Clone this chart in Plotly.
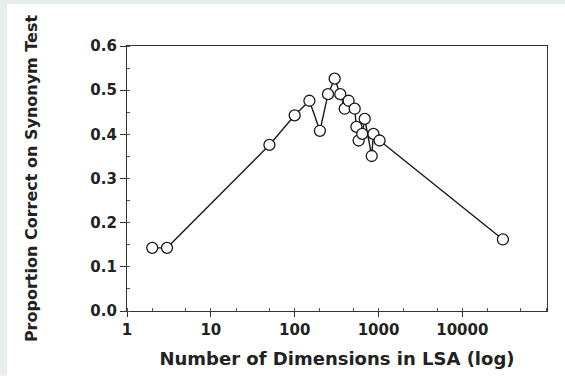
import plotly.graph_objects as go

# Data
dimensions = [2, 3, 50, 100, 150, 200, 250, 300, 350, 395, 440, 520, 545,
              580, 640, 685, 830, 870, 1030, 30473]
proportion = [0.143, 0.143, 0.376, 0.443, 0.476, 0.408, 0.491, 0.526, 0.491,
              0.458, 0.476, 0.458, 0.417, 0.386, 0.401, 0.435, 0.351, 0.401,
              0.386, 0.162]

x_tickvals = [1, 10, 100, 1000, 10000]
x_ticktext = ["1", "10", "100", "1000", "10000"]
y_tickvals = [0.0, 0.1, 0.2, 0.3, 0.4, 0.5, 0.6]
y_ticktext = ["0.0", "0.1", "0.2", "0.3", "0.4", "0.5", "0.6"]

W, H = 565, 378
L, R, T, B = 127, 18, 46, 61
pw, ph = W - L - R, H - T - B


def px_x(p):
    return (p - L) / pw


def px_y(p):
    return (H - B - p) / ph


border = "#e6eded"
fig = go.Figure()
fig.add_trace(go.Scatter(
    x=dimensions, y=proportion, mode="lines+markers",
    line=dict(color="#1a1a1a", width=1.4),
    marker=dict(symbol="circle", size=11, color="white",
                line=dict(color="#1a1a1a", width=1.3)),
    showlegend=False, cliponaxis=False,
))

font_main = "DejaVu Sans"
fig.update_layout(
    width=W, height=H,
    margin=dict(l=L, r=R, t=T, b=B),
    paper_bgcolor="white",
    plot_bgcolor="white",
    shapes=[
        dict(type="rect", xref="paper", yref="paper", layer="below",
             x0=px_x(-5), x1=px_x(7), y0=px_y(H + 5), y1=px_y(-5),
             fillcolor=border, line=dict(width=0)),
        dict(type="rect", xref="paper", yref="paper", layer="below",
             x0=px_x(-5), x1=px_x(W + 5), y0=px_y(3), y1=px_y(-5),
             fillcolor=border, line=dict(width=0)),
    ],
    xaxis=dict(
        type="log", range=[0, 5.01],
        tickvals=x_tickvals, ticktext=x_ticktext,
        ticks="outside", ticklen=5, tickwidth=1.2, tickcolor="#333",
        tickfont=dict(family=font_main, size=15, color="#222", weight="bold"),
        showline=True, linecolor="#333", linewidth=1.3, mirror=True,
        showgrid=False, zeroline=False,
        minor=dict(ticks="inside", ticklen=3, tickcolor="#555", tickwidth=1,
                   showgrid=False),
        title=dict(text="Number of Dimensions in LSA (log)", standoff=14,
                   font=dict(family=font_main, size=18, color="#222", weight="bold")),
    ),
    yaxis=dict(
        range=[0, 0.6],
        tickvals=y_tickvals, ticktext=y_ticktext,
        ticks="outside", ticklen=6, tickwidth=1.2, tickcolor="#333",
        tickfont=dict(family=font_main, size=15, color="#222", weight="bold"),
        showline=True, linecolor="#333", linewidth=1.3, mirror=True,
        showgrid=False, zeroline=False,
        minor=dict(ticks="inside", ticklen=3, dtick=0.05, tickcolor="#555",
                   tickwidth=1, showgrid=False),
        title=dict(text="Proportion Correct on Synonym Test", standoff=48,
                   font=dict(family=font_main, size=16, color="#222", weight="bold")),
    ),
)

fig.write_html("out.html")
